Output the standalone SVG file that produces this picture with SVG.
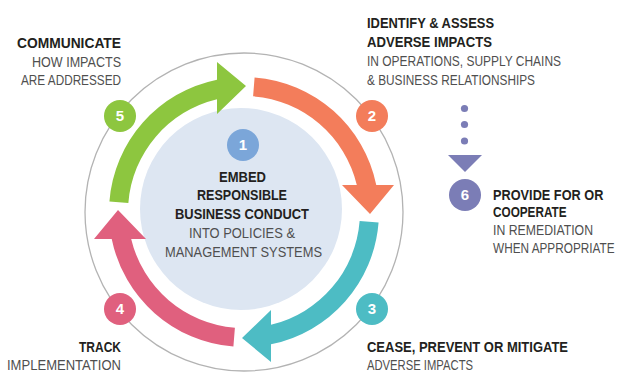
<svg xmlns="http://www.w3.org/2000/svg" width="617" height="374" viewBox="0 0 617 374">
<style>
text{font-family:"Liberation Sans",Arial,sans-serif;font-size:15px}
.b{font-weight:bold;fill:#231f20}
.l{fill:#4f4f4f}
.e{text-anchor:end}
.m{text-anchor:middle}
.n{font-weight:bold;fill:#fff;text-anchor:middle;font-size:15px}
</style>
<defs>
<path id="arrow" d="M109.42,201.41 A135,135 0 0 1 217,79.73 L217,62 L246,86 L217,114 L217,99.18 A116,116 0 0 0 128.36,202.9 Z"/>
</defs>
<rect width="617" height="374" fill="#fff"/>
<g id="ring">
<circle cx="244" cy="212" r="159" fill="none" stroke="#b3b3b3" stroke-width="1.3"/>
</g>
<g id="node1">
<circle cx="241" cy="209" r="101" fill="#dde6f2"/>
<circle cx="243" cy="145" r="16" fill="#7ba6d9"/>
<text class="n" x="243" y="150">1</text>
<text class="b m" x="242.5" y="182" textLength="47" lengthAdjust="spacingAndGlyphs">EMBED</text>
<text class="b m" x="242" y="200" textLength="90" lengthAdjust="spacingAndGlyphs">RESPONSIBLE</text>
<text class="b m" x="242" y="218.5" textLength="134" lengthAdjust="spacingAndGlyphs">BUSINESS CONDUCT</text>
<text class="l m" x="242" y="238" textLength="106" lengthAdjust="spacingAndGlyphs">INTO POLICIES &amp;</text>
<text class="l m" x="243.5" y="257" textLength="157" lengthAdjust="spacingAndGlyphs">MANAGEMENT SYSTEMS</text>
</g>
<g id="connectors">
<use href="#arrow" fill="#8dc63f"/>
<use href="#arrow" fill="#f37d5b" transform="rotate(90 244 212)"/>
<use href="#arrow" fill="#4dbcc4" transform="rotate(180 244 212)"/>
<use href="#arrow" fill="#e0607e" transform="rotate(270 244 212)"/>
<g fill="#7b7db6">
<circle cx="464.5" cy="108.5" r="3.6"/>
<circle cx="464.5" cy="124.5" r="3.6"/>
<circle cx="464.5" cy="141" r="3.6"/>
<polygon points="448,155 482,155 465,172"/>
</g>
</g>
<g id="node2">
<circle cx="372" cy="116" r="16" fill="#f37d5b"/>
<text class="n" x="372" y="121">2</text>
<text class="b" x="367" y="28" textLength="127" lengthAdjust="spacingAndGlyphs">IDENTIFY &amp; ASSESS</text>
<text class="b" x="367" y="46.5" textLength="125" lengthAdjust="spacingAndGlyphs">ADVERSE IMPACTS</text>
<text class="l" x="367" y="66" textLength="194" lengthAdjust="spacingAndGlyphs">IN OPERATIONS, SUPPLY CHAINS</text>
<text class="l" x="367" y="85" textLength="168" lengthAdjust="spacingAndGlyphs">&amp; BUSINESS RELATIONSHIPS</text>
</g>
<g id="node3">
<circle cx="372" cy="309" r="16" fill="#4dbcc4"/>
<text class="n" x="372" y="314">3</text>
<text class="b" x="367" y="352" textLength="201" lengthAdjust="spacingAndGlyphs">CEASE, PREVENT OR MITIGATE</text>
<text class="l" x="367" y="370" textLength="106" lengthAdjust="spacingAndGlyphs">ADVERSE IMPACTS</text>
</g>
<g id="node4">
<circle cx="120" cy="309" r="16" fill="#e0607e"/>
<text class="n" x="120" y="314">4</text>
<text class="b e" x="121" y="352" textLength="42" lengthAdjust="spacingAndGlyphs">TRACK</text>
<text class="l e" x="121" y="370" textLength="114" lengthAdjust="spacingAndGlyphs">IMPLEMENTATION</text>
</g>
<g id="node5">
<circle cx="120" cy="116" r="16" fill="#8dc63f"/>
<text class="n" x="120" y="121">5</text>
<text class="b e" x="121" y="48" textLength="104" lengthAdjust="spacingAndGlyphs">COMMUNICATE</text>
<text class="l e" x="121" y="67" textLength="89" lengthAdjust="spacingAndGlyphs">HOW IMPACTS</text>
<text class="l e" x="121" y="85" textLength="100" lengthAdjust="spacingAndGlyphs">ARE ADDRESSED</text>
</g>
<g id="node6">
<circle cx="465" cy="195" r="16" fill="#7b7db6"/>
<text class="n" x="465" y="200">6</text>
<g transform="translate(493 0) scale(0.8 1)">
<text class="b" x="0" y="200" textLength="138" lengthAdjust="spacingAndGlyphs">PROVIDE FOR OR</text>
<text class="b" x="0" y="217.5" textLength="92" lengthAdjust="spacingAndGlyphs">COOPERATE</text>
<text class="l" x="0" y="235" textLength="125" lengthAdjust="spacingAndGlyphs">IN REMEDIATION</text>
<text class="l" x="0" y="253" textLength="152" lengthAdjust="spacingAndGlyphs">WHEN APPROPRIATE</text>
</g>
</g>
</svg>
